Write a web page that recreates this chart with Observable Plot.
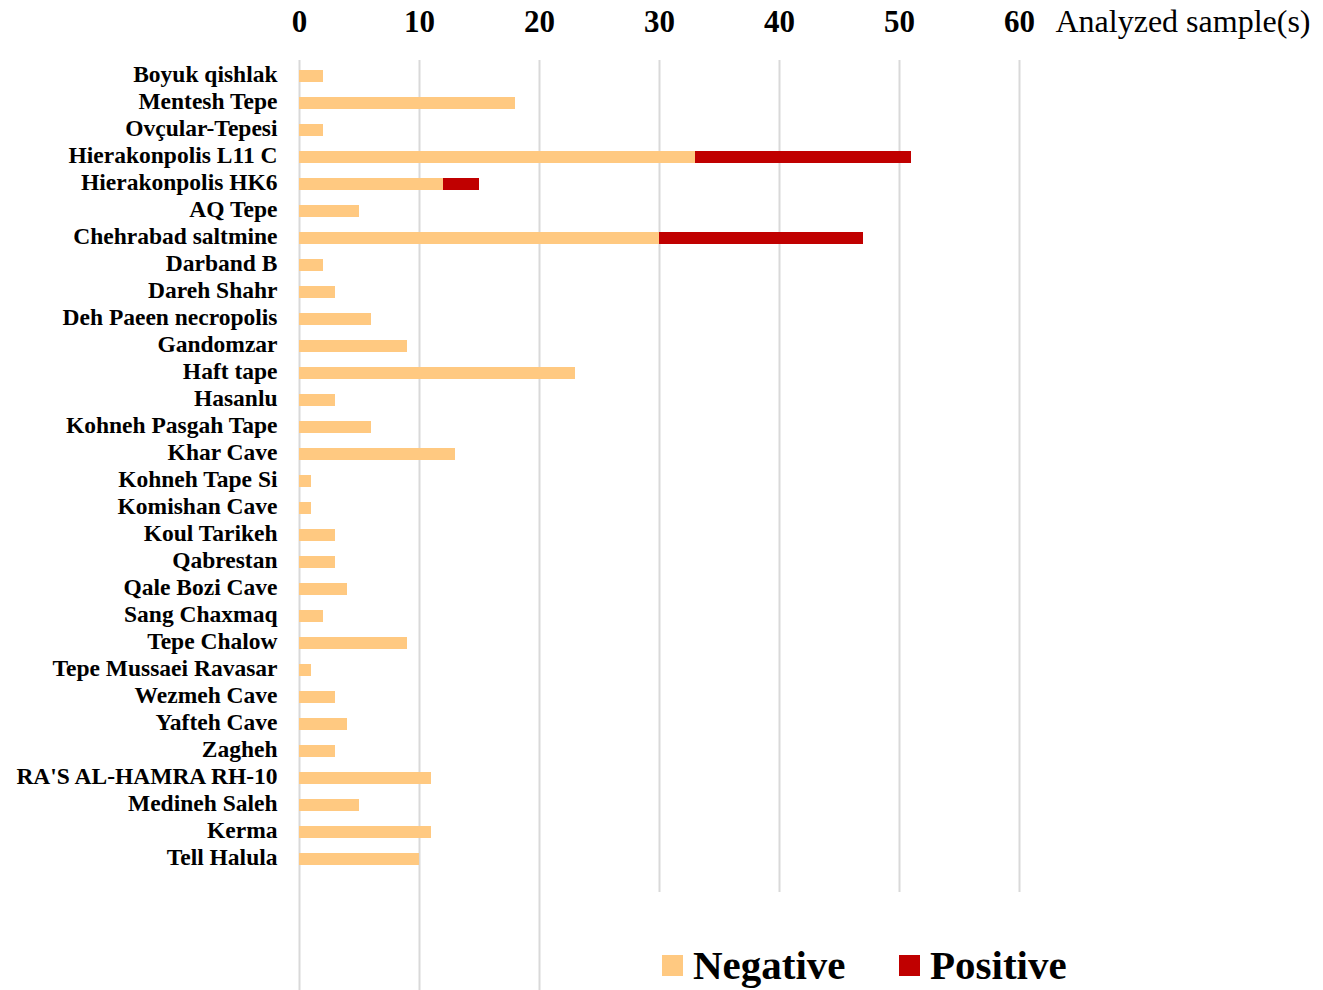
<!DOCTYPE html>
<html>
<head>
<meta charset="utf-8">
<script src="https://cdn.jsdelivr.net/npm/d3@7"></script>
<script src="https://cdn.jsdelivr.net/npm/@observablehq/plot@0.6"></script>
<style>
  html, body { margin: 0; padding: 0; background: #fff; }
  #wrap { position: relative; width: 1323px; height: 990px; }
  #legend {
    position: absolute; left: 650px; top: 892px; width: 440px; height: 98px;
    background: #fff; font-family: "Liberation Serif", "Times New Roman", serif;
    font-weight: bold; font-size: 41px; color: #000;
  }
  .item { position: absolute; top: 49px; display: flex; align-items: center; white-space: nowrap; }
  .sw { width: 21px; height: 21px; margin-right: 10px; }
</style>
</head>
<body>
<div id="wrap"></div>
<script>
const sites = [
  "Boyuk qishlak", "Mentesh Tepe", "Ovçular-Tepesi", "Hierakonpolis L11 C",
  "Hierakonpolis HK6", "AQ Tepe", "Chehrabad saltmine", "Darband B",
  "Dareh Shahr", "Deh Paeen necropolis", "Gandomzar", "Haft tape",
  "Hasanlu", "Kohneh Pasgah Tape", "Khar Cave", "Kohneh Tape Si",
  "Komishan Cave", "Koul Tarikeh", "Qabrestan", "Qale Bozi Cave",
  "Sang Chaxmaq", "Tepe Chalow", "Tepe Mussaei Ravasar", "Wezmeh Cave",
  "Yafteh Cave", "Zagheh", "RA'S AL-HAMRA RH-10", "Medineh Saleh",
  "Kerma", "Tell Halula"
];
const negative = [2, 18, 2, 33, 12, 5, 30, 2, 3, 6, 9, 23, 3, 6, 13, 1, 1, 3, 3, 4, 2, 9, 1, 3, 4, 3, 11, 5, 11, 10];
const positive = [0, 0, 0, 18, 3, 0, 17, 0, 0, 0, 0, 0, 0, 0, 0, 0, 0, 0, 0, 0, 0, 0, 0, 0, 0, 0, 0, 0, 0, 0];
const statuses = ["Negative", "Positive"];
const colors = ["#FFC981", "#C00000"];
const xTicks = [0, 10, 20, 30, 40, 50, 60];
const axisLabel = "Analyzed sample(s)";

const data = [];
sites.forEach((s, i) => {
  data.push({site: s, status: "Negative", value: negative[i]});
  data.push({site: s, status: "Positive", value: positive[i]});
});

const font = '"Liberation Serif", "Times New Roman", serif';

const chart = Plot.plot({
  width: 1323,
  height: 990,
  marginTop: 60,
  marginBottom: 0,
  marginLeft: 299,
  marginRight: 304,
  style: {fontFamily: font, background: "#fff", color: "#000"},
  x: {domain: [0, 60], ticks: xTicks},
  y: {domain: sites, range: [60.4, 874.6], paddingInner: 0.56, paddingOuter: 0.28},
  color: {domain: statuses, range: colors},
  marks: [
    Plot.gridX(xTicks, {stroke: "#d9d9d9", strokeOpacity: 1, strokeWidth: 2}),
    Plot.barX(data, Plot.stackX({x: "value", y: "site", fill: "status", order: statuses})),
    Plot.axisX({anchor: "top", ticks: xTicks, tickSize: 0, tickPadding: 0, label: null,
      fontSize: 31, fontWeight: "bold", dy: -29}),
    Plot.axisY({anchor: "left", tickSize: 0, tickPadding: 22, label: null,
      fontSize: 23.5, fontWeight: "bold", dy: -2}),
    Plot.text([axisLabel], {frameAnchor: "top-right", textAnchor: "start", dx: 36, dy: -51,
      fontSize: 32, fill: "#000", fontFamily: font})
  ]
});
document.getElementById("wrap").appendChild(chart);

const legend = document.createElement("div");
legend.id = "legend";
const offsets = [12, 249];
statuses.forEach((s, i) => {
  const it = document.createElement("div");
  it.className = "item";
  it.style.left = offsets[i] + "px";
  const sw = document.createElement("div");
  sw.className = "sw";
  sw.style.background = colors[i];
  const t = document.createElement("span");
  t.textContent = s;
  it.appendChild(sw);
  it.appendChild(t);
  legend.appendChild(it);
});
document.getElementById("wrap").appendChild(legend);
</script>
</body>
</html>
